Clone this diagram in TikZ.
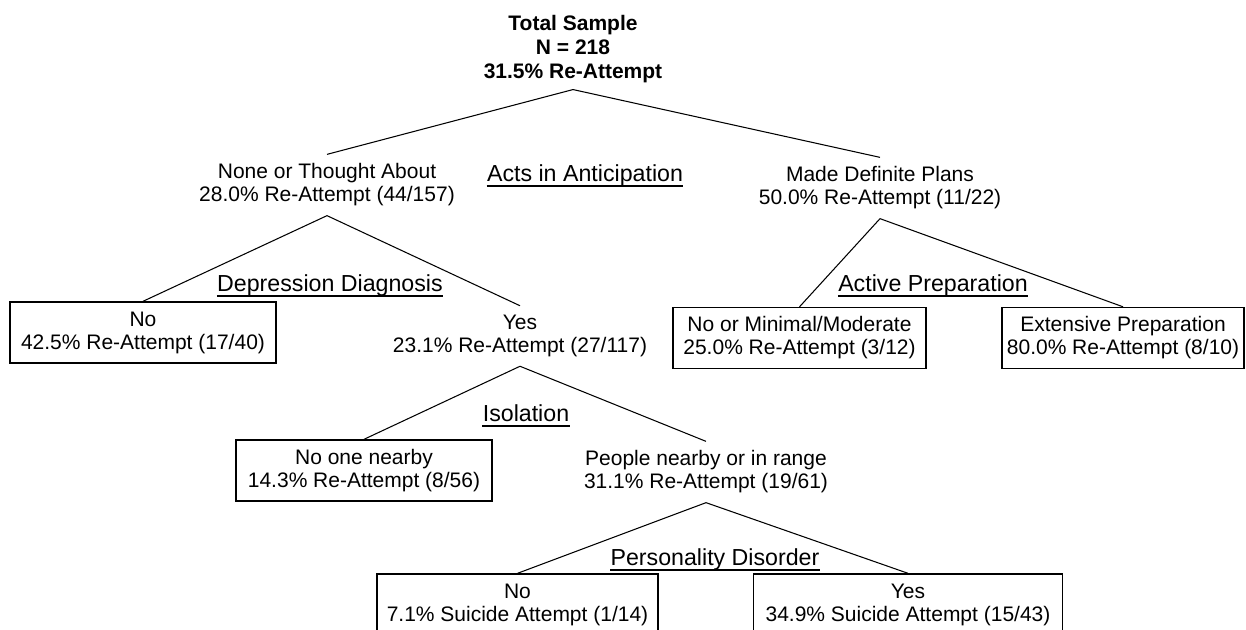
\documentclass[tikz,border=0pt]{standalone}
\usepackage{fontspec}
\setmainfont{Liberation Sans}
\usetikzlibrary{calc}
\def\leaffont{\fontsize{11.95}{13.1}\selectfont}
\def\critfont{\fontsize{13.2}{14.5}\selectfont}
\def\rootfont{\fontsize{11.95}{13.9}\selectfont\bfseries}

\tikzset{
	split/.style={align=center, font=\leaffont, inner xsep=0pt, inner ysep=0.18cm},
	leaf/.style={draw, line width=0.8pt, align=center, font=\leaffont, minimum height=1.22cm, inner sep=0pt},
	crit/.style={font=\critfont, inner sep=0pt, anchor=base},
	branch/.style={line width=0.6pt},
	uline/.style={line width=1.1pt}
}

\begin{document}
\begin{tikzpicture}[x=0.02cm, y=-0.02cm]
		%%%%% START %%%%%
		\useasboundingbox (0, 0) rectangle (1246, 629);
		\clip (0, 0) rectangle (1246, 629);
		
		\node[split, font=\rootfont, inner ysep=0.12cm] (root) at (573, 49) {Total Sample\\N = 218\\31.5\% Re-Attempt};
		
		\node[split] (none) at (327, 185) {None or Thought About\\28.0\% Re-Attempt (44/157)};
		\node[split] (made) at (880, 188) {Made Definite Plans\\50.0\% Re-Attempt (11/22)};
		
		\node[leaf, minimum width=5.32cm] (nodep) at (143, 332.5) {No\\42.5\% Re-Attempt (17/40)};
		\node[split] (dep) at (520, 336) {Yes\\23.1\% Re-Attempt (27/117)};
		\node[leaf, minimum width=5.06cm] (minprep) at (799.5, 338) {No or Minimal/Moderate\\25.0\% Re-Attempt (3/12)};
		\node[leaf, minimum width=4.84cm] (extprep) at (1123, 338) {Extensive Preparation\\80.0\% Re-Attempt (8/10)};
		
		\node[leaf, minimum width=5.12cm] (alone) at (364, 470.5) {No one nearby\\14.3\% Re-Attempt (8/56)};
		\node[split] (people) at (706, 472) {People nearby or in range\\31.1\% Re-Attempt (19/61)};
		
		\node[leaf, minimum width=5.62cm] (nopd) at (517.5, 604.5) {No\\7.1\% Suicide Attempt (1/14)};
		\node[leaf, minimum width=6.18cm] (pd) at (908, 604.5) {Yes\\34.9\% Suicide Attempt (15/43)};
		
		\draw[branch] (root.south) -- (none.north);
		\draw[branch] (root.south) -- (made.north);
		\draw[branch] (none.south) -- (nodep.north);
		\draw[branch] (none.south) -- (dep.north);
		\draw[branch] (made.south) -- (minprep.north);
		\draw[branch] (made.south) -- (extprep.north);
		\draw[branch] (dep.south) -- (alone.north);
		\draw[branch] (dep.south) -- (people.north);
		\draw[branch] (people.south) -- (nopd.north);
		\draw[branch] (people.south) -- (pd.north);
		
		\node[crit] (acts) at (585, 181) {Acts in Anticipation};
		\node[crit] (depdx) at (330, 291) {Depression Diagnosis};
		\node[crit] (prep) at (933, 291) {Active Preparation};
		\node[crit] (iso) at (526, 421) {Isolation};
		\node[crit] (pers) at (715, 565) {Personality Disorder};
		\foreach \c in {acts, depdx, prep, iso, pers}
			\draw[uline] ([yshift=-0.1cm]\c.base west) -- ([yshift=-0.1cm]\c.base east);
		
		%%%%% END %%%%%
	\end{tikzpicture}
\end{document}
